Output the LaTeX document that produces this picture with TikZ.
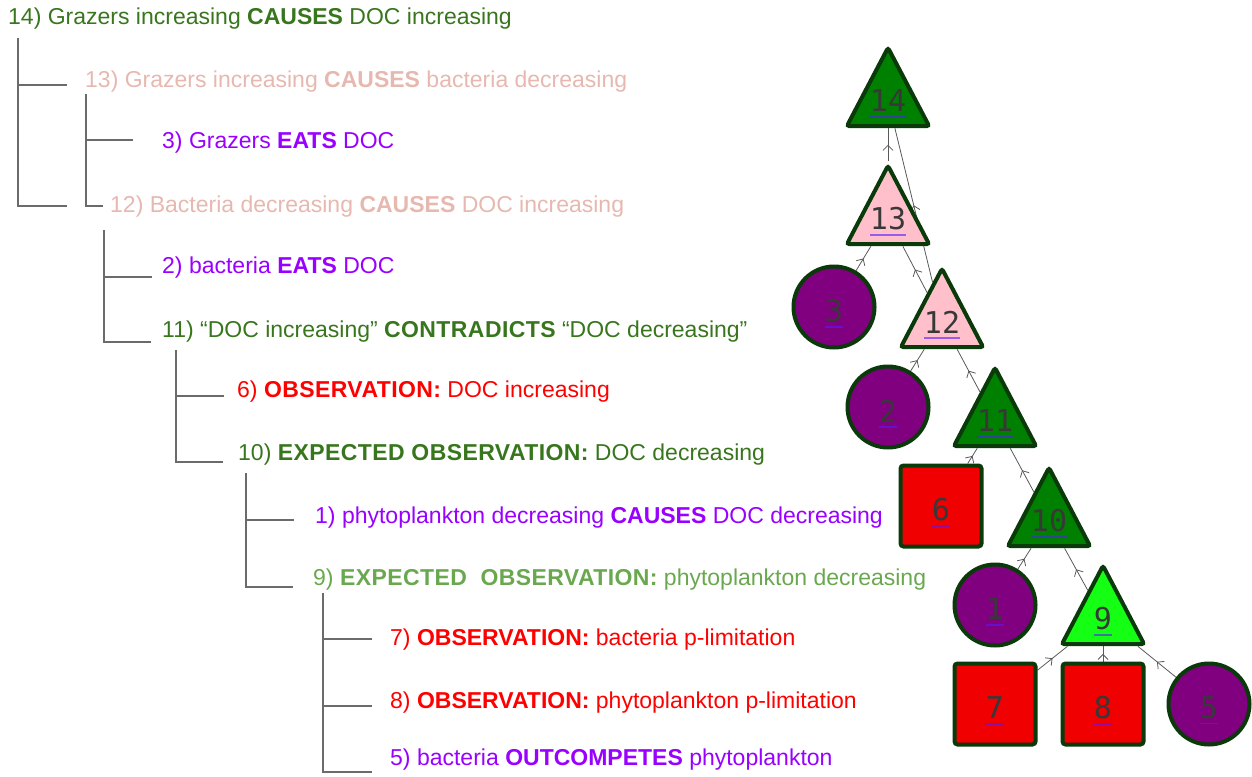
\documentclass[tikz,border=0pt]{standalone}
\usepackage{fontspec}
\setmainfont{Liberation Sans}
\newfontfamily\numfont{DejaVu Sans Mono}
\usetikzlibrary{shapes.geometric,arrows.meta,decorations.markings,backgrounds}

% text colours of the argument lines
\definecolor{argdark}{HTML}{38761D}
\definecolor{argpink}{HTML}{E6B8AF}
\definecolor{argpurple}{HTML}{9900FF}
\definecolor{argred}{HTML}{FF0000}
\definecolor{argmid}{HTML}{6AA84F}
% fills of the graph shapes
\definecolor{bord}{HTML}{0A3A0A}
\definecolor{tridark}{HTML}{008000}
\definecolor{tripink}{HTML}{FFC0CB}
\definecolor{trilight}{HTML}{14FF14}
\definecolor{circpurple}{HTML}{800080}
\definecolor{sqred}{HTML}{F00000}
\definecolor{ulc}{RGB}{85,26,255}
\definecolor{treegray}{HTML}{6B6B6B}

% slightly spaced bold keywords
\newcommand\kw[1]{{\bfseries\addfontfeature{LetterSpace=1.8}#1}}

\tikzset{
  line/.style={anchor=base west, inner sep=0pt, font=\fontsize{23}{27}\selectfont},
  tree/.style={draw=treegray, line width=1.4pt},
  tri/.style={regular polygon, regular polygon sides=3, minimum size=95pt,
    inner sep=0pt, yscale=1.1, draw=bord, line width=4pt, rounded corners=2.5pt},
  circ/.style={circle, minimum size=81pt, inner sep=0pt, draw=bord,
    line width=4pt, fill=circpurple},
  sq/.style={rectangle, minimum size=81pt, inner sep=0pt, draw=bord,
    line width=4pt, rounded corners=3pt, fill=sqred},
  num/.style={inner sep=0pt, text=black!78, font=\numfont\fontsize{30}{30}\selectfont},
  ul/.style={draw=ulc, draw opacity=0.6, line width=1.4pt},
  link/.style={draw=black!65, line width=0.8pt, postaction={decorate},
    decoration={markings, mark=at position 0.5 with
      {\arrow{Straight Barb[length=5pt,width=10pt,line width=0.8pt]}}}}
}

% number label with its underline, placed in a shape
\newcommand\shapelabel[3]{%
  \node[num] (#1l) at ([yshift=#3]#1.center) {#2};
  \draw[ul] ([yshift=-5pt]#1l.base west) -- ([yshift=-5pt]#1l.base east);
}

\begin{document}
\begin{tikzpicture}[x=1pt, y=-1pt]
\useasboundingbox (0,0) rectangle (1252,776);

% ---------- indented argument outline ----------
\node[line, text=argdark]   (a14) at (8,25)   {14) Grazers increasing \textbf{CAUSES} DOC increasing};
\node[line, text=argpink]   (a13) at (85,88)  {13) Grazers increasing \textbf{CAUSES} bacteria decreasing};
\node[line, text=argpurple] (a3)  at (162,148) {3) Grazers \textbf{EATS} DOC};
\node[line, text=argpink]   (a12) at (110,212) {12) Bacteria decreasing \textbf{CAUSES} DOC increasing};
\node[line, text=argpurple] (a2)  at (162,273) {2) bacteria \textbf{EATS} DOC};
\node[line, text=argdark]   (a11) at (162,337) {11) “DOC increasing” \kw{CONTRADICTS} “DOC decreasing”};
\node[line, text=argred]    (a6)  at (237,397) {6) \kw{OBSERVATION:} DOC increasing};
\node[line, text=argdark]   (a10) at (238,460) {10) \kw{EXPECTED OBSERVATION:} DOC decreasing};
\node[line, text=argpurple] (a1)  at (315,523) {1) phytoplankton decreasing \textbf{CAUSES} DOC decreasing};
\node[line, text=argmid]    (a9)  at (313,585) {9) \kw{EXPECTED\ \ OBSERVATION:} phytoplankton decreasing};
\node[line, text=argred]    (a7)  at (390,645) {7) \textbf{OBSERVATION:} bacteria p-limitation};
\node[line, text=argred]    (a8)  at (390,708) {8) \textbf{OBSERVATION:} phytoplankton p-limitation};
\node[line, text=argpurple] (a5)  at (390,765) {5) bacteria \textbf{OUTCOMPETES} phytoplankton};

% outline brackets
\draw[tree] (67,85) -- (18,85) (18,38) |- (67,206);
\draw[tree] (133,140) -- (86,140) (86,94) |- (103,206);
\draw[tree] (152,277) -- (104,277) (104,230) |- (151,342);
\draw[tree] (224,396) -- (176,396) (176,350) |- (223,462);
\draw[tree] (294,520) -- (246,520) (246,473) |- (293,587);
\draw[tree] (372,639) -- (323,639) (372,706) -- (323,706) (323,593) |- (372,772);

% ---------- argument graph ----------
\node[tri, fill=tridark]  (t14) at (888,100) {};
\node[tri, fill=tripink]  (t13) at (888,218) {};
\node[circ]               (c3)  at (834,307) {};
\node[tri, fill=tripink]  (t12) at (942,321) {};
\node[circ]               (c2)  at (888,407) {};
\node[tri, fill=tridark]  (t11) at (995,420) {};
\node[sq]                 (s6)  at (941,506) {};
\node[tri, fill=tridark]  (t10) at (1049,520) {};
\node[circ]               (c1)  at (995,605) {};
\node[tri, fill=trilight] (t9)  at (1103,618) {};
\node[sq]                 (s7)  at (995,704) {};
\node[sq]                 (s8)  at (1103,704) {};
\node[circ]               (c5)  at (1209,704) {};

\shapelabel{t14}{14}{-1pt}
\shapelabel{t13}{13}{-1pt}
\shapelabel{c3}{3}{-4pt}
\shapelabel{t12}{12}{-1pt}
\shapelabel{c2}{2}{-4pt}
\shapelabel{t11}{11}{-1pt}
\shapelabel{s6}{6}{-4pt}
\shapelabel{t10}{10}{-1pt}
\shapelabel{c1}{1}{-4pt}
\shapelabel{t9}{9}{-1pt}
\shapelabel{s7}{7}{-4pt}
\shapelabel{s8}{8}{-4pt}
\shapelabel{c5}{5}{-4pt}

% support links, child to parent, kept behind the shapes
\begin{scope}[on background layer]
\draw[link] (t13) -- (t14);
\draw[link] (t12) -- (t14);
\draw[link] (c3)  -- (t13);
\draw[link] (t12) -- (t13);
\draw[link] (c2)  -- (t12);
\draw[link] (t11) -- (t12);
\draw[link] (s6)  -- (t11);
\draw[link] (t10) -- (t11);
\draw[link] (c1)  -- (t10);
\draw[link] (t9)  -- (t10);
\draw[link] (s7)  -- (t9);
\draw[link] (s8)  -- (t9);
\draw[link] (c5)  -- (t9);
\end{scope}
\end{tikzpicture}
\end{document}
